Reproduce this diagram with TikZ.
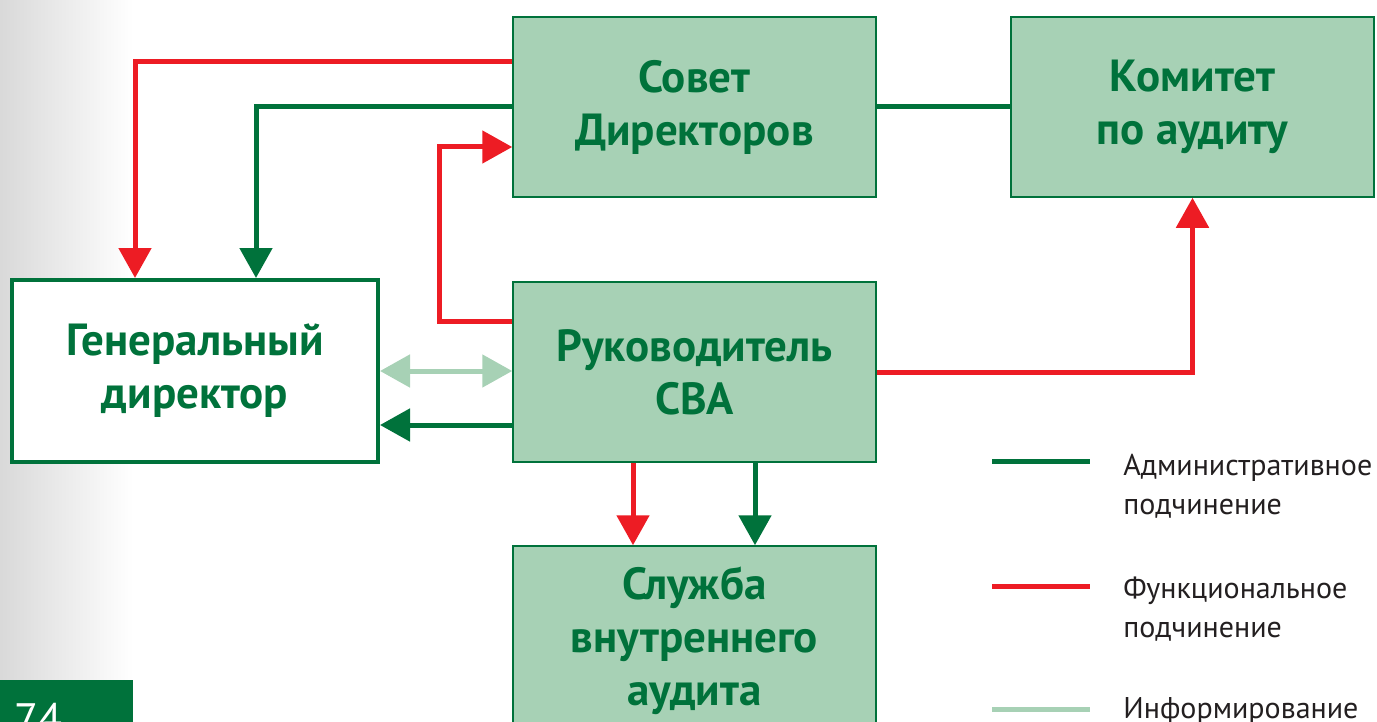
\documentclass[tikz,border=0pt]{standalone}
\usepackage{fontspec}
\setmainfont{PT Sans}
\usepackage{tikz}
\usetikzlibrary{arrows.meta, positioning, calc}
\definecolor{mygreen}{RGB}{0,114,59}
\definecolor{mylight}{RGB}{167,209,181}
\definecolor{myred}{RGB}{237,28,36}
\definecolor{mytext}{RGB}{35,31,32}

\begin{document}
\begin{tikzpicture}[x=0.5pt, y=-0.5pt]
	\tikzset{box/.style={draw=mygreen, line width=0.75pt, fill=mylight, minimum width=181.5pt, minimum height=90pt, inner sep=0pt, align=center, text=mygreen, font=\bfseries\fontsize{22.5}{26.5}\selectfont}}
	\tikzset{edge/.style={-{Triangle[width=16pt,length=15pt]}, line width=2.5pt}}
	\tikzset{legend/.style={anchor=base west, align=left, inner sep=0pt, text=mytext, font=\fontsize{15}{19.5}\selectfont}}
	
	\useasboundingbox (0,0) rectangle (1377,722);
	
	% page margin and number
	\shade[left color=black!15, right color=white] (0,0) rectangle (133,722);
	\begin{scope}
		\clip (0,0) rectangle (1377,722);
		\fill[mygreen] (0,680) rectangle (133,722);
		\node(page) at (14,734) [anchor=base west, inner sep=0pt, text=white, font=\fontsize{22}{22}\selectfont] {74};
	\end{scope}
	
	\node(sovet) at (694.5,107) [box] {Совет\\Директоров};
	\node(komitet) at (1192.5,107) [box] {Комитет\\по аудиту};
	\node(gendir) at (195,371) [box, fill=white, line width=2pt, minimum width=183pt, minimum height=91pt] {Генеральный\\директор};
	\node(ruk) at (694.5,372) [box] {Руководитель\\СВА};
	\node(sluzhba) at (694.5,641) [box, minimum height=95pt] {Служба\\внутреннего\\аудита};
	
	\draw[edge, myred] ([yshift=22.5pt]sovet.west) -| ([xshift=-30pt]gendir.north);
	\draw[edge, mygreen] (sovet.west) -| ([xshift=30.5pt]gendir.north);
	\draw[edge, myred] ([yshift=25.5pt]ruk.west) -- ++(-36.5pt,0) |- ([yshift=-20pt]sovet.west);
	\draw[line width=2.5pt, mygreen] (sovet.east) -- (komitet.west);
	\draw[edge, myred] (ruk.east) -| (komitet.south);
	
	\draw[edge, mylight, {Triangle[width=16pt,length=15pt]}-{Triangle[width=16pt,length=15pt]}] (gendir.east) -- (gendir.east -| ruk.west);
	\coordinate(back) at ([yshift=-26.5pt]ruk.west);
	\draw[edge, mygreen] (back) -- (back -| gendir.east);
	
	\draw[edge, myred] ([xshift=-30.75pt]ruk.south) -- ([xshift=-30.75pt]sluzhba.north);
	\draw[edge, mygreen] ([xshift=30.25pt]ruk.south) -- ([xshift=30.25pt]sluzhba.north);
	
	% legend
	\coordinate(adm1) at (992,461);
	\coordinate(adm2) at (1090,461);
	\coordinate(fun1) at (992,586);
	\coordinate(fun2) at (1090,586);
	\coordinate(inf1) at (992,709);
	\coordinate(inf2) at (1090,709);
	\draw[line width=2.5pt, mygreen] (adm1) -- (adm2);
	\draw[line width=2.5pt, myred] (fun1) -- (fun2);
	\draw[line width=2.5pt, mylight] (inf1) -- (inf2);
	\node(adm) at (1123,514) [legend] {Административное\\подчинение};
	\node(fun) at (1123,637) [legend] {Функциональное\\подчинение};
	\node(inf) at (1123,718) [legend] {Информирование};
	
\end{tikzpicture}
\end{document}
